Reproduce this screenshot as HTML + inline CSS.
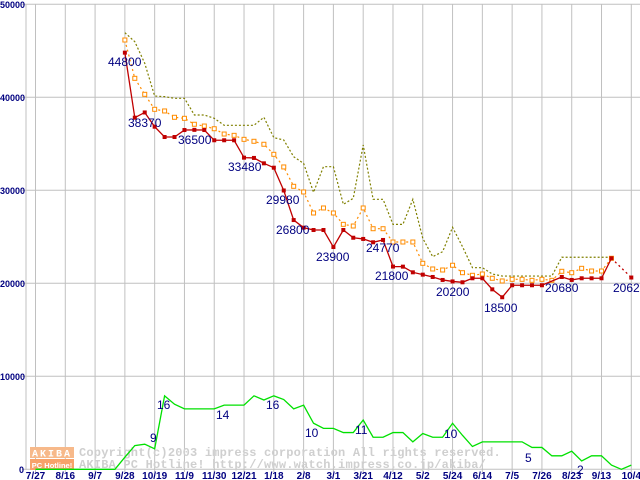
<!DOCTYPE html>
<html><head><meta charset="utf-8"><style>
html,body{margin:0;padding:0;background:#fff;}
svg{display:block;}
</style></head><body>
<svg id="chart" width="640" height="480" xmlns="http://www.w3.org/2000/svg" font-family="'Liberation Sans', sans-serif">
<g id="grid"></g>
<g id="wm">
  <rect x="30" y="447" width="44" height="11" fill="#f7b98a"/>
  <rect x="30" y="459" width="44" height="11" fill="#f7a26a"/>
  <text x="52" y="456.5" font-size="10" font-weight="bold" fill="#fff" text-anchor="middle" letter-spacing="2" font-family="'Liberation Mono', monospace">AKIBA</text>
  <text x="52" y="468" font-size="7.5" font-weight="bold" fill="#fff" text-anchor="middle">PC Hotline!</text>
  <text x="79" y="456" font-size="12" font-weight="bold" fill="#cfcfcf" letter-spacing="0.2" font-family="'Liberation Mono', monospace">Copyright(c)2003 impress corporation All rights reserved.</text>
  <text x="79" y="468" font-size="12" font-weight="bold" fill="#cfcfcf" letter-spacing="0.2" font-family="'Liberation Mono', monospace">AKIBA PC Hotline! http://www.watch.impress.co.jp/akiba/</text>
</g>
<g id="series"></g>
<g id="labels"></g>
</svg>
<script>
const tickLabels=["7/27","8/16","9/7","9/28","10/19","11/9","11/30","12/21","1/18","2/8","3/1","3/21","4/12","5/2","5/24","6/14","7/5","7/26","8/23","9/13","10/4"];
const yTicks=[0,10000,20000,30000,40000,50000];
// weekly index k: 0 = 7/27 ; price series start at k=9
const redStart=9;
const redValues=[44800,37810,38370,36840,35730,35730,36480,36500,36480,35380,35380,35380,33510,33480,32900,32430,29980,26800,25980,25730,25730,23900,25730,24900,24770,24410,24660,21800,21790,21180,20930,20680,20360,20200,20110,20540,20540,19350,18500,19790,19790,19790,19790,null,20680,20360,20540,20540,20540,22690,null,20620];
const orangeValues=[46160,42040,40320,38710,38530,37850,37740,37100,36910,36620,36050,35910,35480,35270,34950,33870,32510,30430,29820,27560,28100,27560,26340,26160,28100,25870,25870,24440,24440,24440,22150,21540,21430,21940,21140,20860,21000,20540,20250,20430,20430,20320,20430,20320,21290,21140,21610,21320,21320,22690];
const oliveValues=[46950,45980,43660,40140,40070,39890,39890,38100,38100,37740,36990,36990,36990,36990,37850,35660,35410,33610,32900,29780,32540,32540,28490,29140,34870,29030,29030,26340,26340,29030,24840,22860,23400,26020,23940,21680,21680,21000,20780,20780,20780,20780,20780,20780,22800,22800,22800,22800,22800,22800];
const countValues=[0,0,0,0,0,0,0,0,0,2.6,5.1,5.4,4.4,15.8,14,13,13,13,13,13.8,13.8,13.8,15.8,14.9,15.8,15,13,13.8,9.9,8.8,8.8,7.9,7.9,10.6,6.9,6.9,7.9,7.9,5.9,7.7,6.9,6.9,9.9,7.3,4.9,5.9,5.9,5.9,5.9,5.9,4.7,4.7,2.9,2.9,3.9,1.8,2.9,2.9,0.9,0,0.9];
const priceLabels=[{k:9,v:"44800",x:108,y:66},{k:10,v:"38370",x:128,y:127},{k:16,v:"36500",x:178,y:144},{k:22,v:"33480",x:228,y:171},{k:25,v:"29980",x:266,y:204},{k:26,v:"26800",x:276,y:234},{k:30,v:"23900",x:316,y:261},{k:33,v:"24770",x:366,y:252},{k:36,v:"21800",x:375,y:280},{k:42,v:"20200",x:436,y:296},{k:47,v:"18500",x:484,y:312},{k:53,v:"20680",x:545,y:292},{k:60,v:"20620",x:613,y:292}];
const countLabels=[{v:"9",x:150,y:442},{v:"16",x:157,y:409},{v:"14",x:216,y:419},{v:"16",x:266,y:409},{v:"10",x:305,y:437},{v:"11",x:355,y:434},{v:"10",x:444,y:438},{v:"5",x:525,y:462},{v:"2",x:577,y:474}];

const NS="http://www.w3.org/2000/svg";
function xk(k){return 35.5+9.93*k;}
function yv(v){return 4.3+(50000-v)*0.0093;}
function yc(c){return yv(c*500);}
function mk(tag,attrs,parent){const e=document.createElementNS(NS,tag);for(const a in attrs)e.setAttribute(a,attrs[a]);parent.appendChild(e);return e;}
const grid=document.getElementById('grid');
yTicks.forEach(v=>{
  const l=mk('line',{x1:22,x2:640,y1:yv(v),y2:yv(v),stroke:'#c0c0c0','stroke-width':1},grid);
  
  
  const t=mk('text',{x:v===0?19:0,y:yv(v)+3.5,'font-size':9,'font-weight':'bold',fill:'#000080'},grid);
  t.textContent=String(v);
  
  
});
const ax=mk('line',{x1:26,x2:26,y1:4,y2:470,stroke:'#c0c0c0'},grid);


tickLabels.forEach((s,i)=>{
  const x=xk(i*3);
  const l=mk('line',{x1:x,x2:x,y1:4,y2:472,stroke:'#c0c0c0'},grid);
  
  
  const t=mk('text',{x:x,y:479,'font-size':10,'font-weight':'bold',fill:'#000080','text-anchor':'middle'},grid);
  t.textContent=s;
  
  
});
const S=document.getElementById('series');
function pts(vals,start,fy){const p=[];vals.forEach((v,i)=>{if(v!==null)p.push([xk(start+i),fy(v)]);});return p;}
// olive max line
const op=pts(oliveValues,redStart,yv);
const ol=mk('polyline',{points:op.map(p=>p.join(',')).join(' '),fill:'none',stroke:'#808000','stroke-width':1.2,'stroke-dasharray':'2,2'},S);


// orange average
const orp=pts(orangeValues,redStart,yv);
const orl=mk('polyline',{points:orp.map(p=>p.join(',')).join(' '),fill:'none',stroke:'#ff8c00','stroke-width':1.2,'stroke-dasharray':'2,3'},S);


orp.forEach(p=>{
  const r=mk('rect',{x:p[0]-2,y:p[1]-2,width:4,height:4,fill:'#fff',stroke:'#ff8c00','stroke-width':1},S);
  
  
});
// red min
const rp=pts(redValues,redStart,yv);
const solid=rp.slice(0,rp.length-1);
const rl=mk('polyline',{points:solid.map(p=>p.join(',')).join(' '),fill:'none',stroke:'#c00000','stroke-width':1.3},S);


const last=rp[rp.length-1],prev=rp[rp.length-2];
const rd=mk('line',{x1:prev[0],y1:prev[1],x2:last[0],y2:last[1],stroke:'#c00000','stroke-width':1.3,'stroke-dasharray':'2,3'},S);


rp.forEach(p=>{
  const r=mk('rect',{x:p[0]-2,y:p[1]-2,width:4,height:4,fill:'#c00000'},S);
  
  
});
// green count
const gp=pts(countValues,0,yc);
const gl=mk('polyline',{points:gp.map(p=>p.join(',')).join(' '),fill:'none',stroke:'#00e000','stroke-width':1.3},S);


const L=document.getElementById('labels');
priceLabels.forEach(o=>{
  const t=mk('text',{x:o.x,y:o.y,'font-size':12,fill:'#000080'},L);
  t.textContent=o.v;
  
  
});
countLabels.forEach(o=>{
  const t=mk('text',{x:o.x,y:o.y,'font-size':12,fill:'#000080'},L);
  t.textContent=o.v;
  
  
});
</script>
</body></html>
